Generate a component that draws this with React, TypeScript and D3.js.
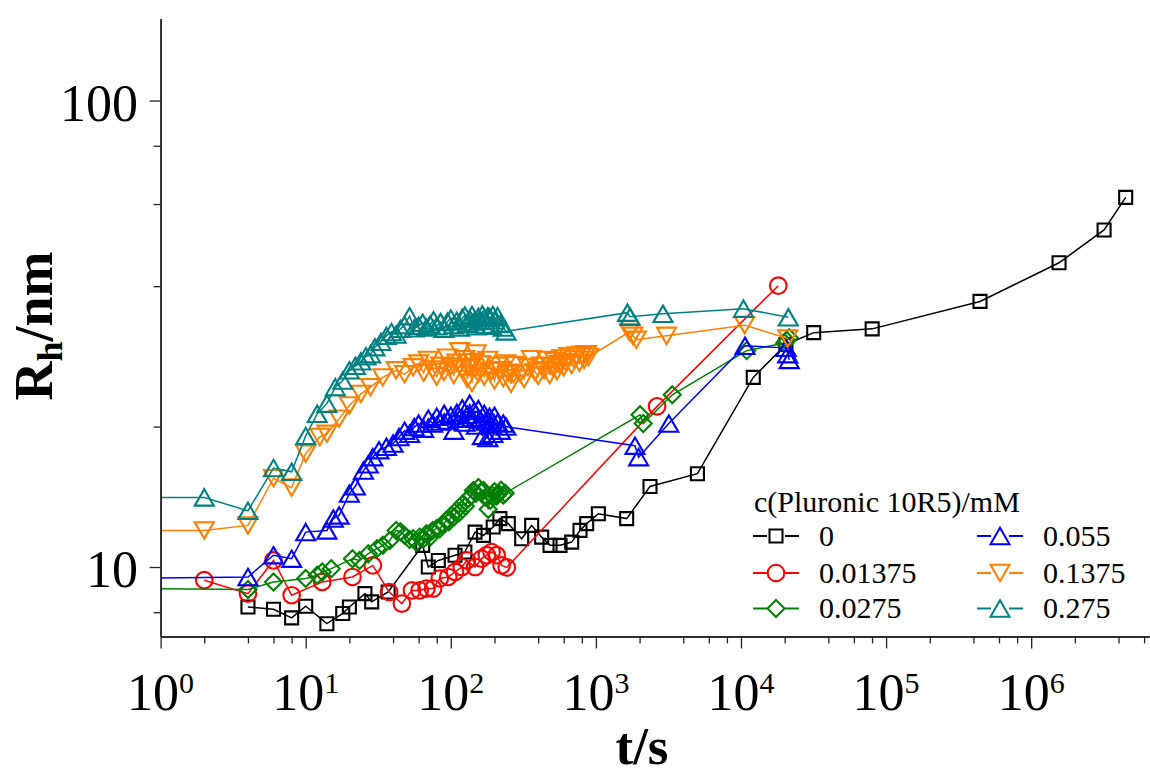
import { useEffect, useRef } from 'react';
import * as d3 from 'd3';

const width = 1150;
const height = 777;
const plot = { left: 160.6, right: 1150, top: 18.4, bottom: 636.4 };
const serif = "'Liberation Serif', 'Times New Roman', serif";

const concentrations = ['0', '0.01375', '0.0275', '0.055', '0.1375', '0.275'];
const seriesColors = ['#000000', '#ff0000', '#008000', '#0000ff', '#ff8000', '#008080'];
const seriesShapes = ['square', 'circle', 'diamond', 'up', 'down', 'up'];

// c = 0 mM
const tBlack = [4, 6, 8, 10, 14, 18, 20, 25.6, 28.5, 37, 64, 70, 82, 107, 125, 147, 168, 196, 218, 249, 308, 361, 423, 483, 566, 681, 777, 864, 1040, 1630, 2360, 5010, 12150, 20400, 31700, 80200, 444000, 1556000, 3180000, 4480000];
const rBlack = [8.21, 8.12, 7.78, 8.24, 7.56, 7.95, 8.21, 8.77, 8.42, 8.84, 11.13, 10.0, 10.33, 10.6, 10.77, 11.88, 11.69, 12.18, 12.7, 12.39, 11.5, 12.28, 11.59, 11.13, 11.13, 11.31, 11.98, 12.39, 13.01, 12.7, 14.88, 15.85, 25.5, 30.0, 31.8, 32.4, 37.1, 44.9, 52.8, 62.0];

// c = 0.01375 mM
const tRed = [2, 4, 6, 8, 13, 21, 29, 37.6, 46, 54, 61, 68, 75.5, 84, 96, 107, 119, 129, 147, 163, 177, 191, 207, 224, 243, 2640, 18070];
const rRed = [9.37, 8.77, 10.33, 8.7, 9.29, 9.52, 10.08, 8.84, 8.35, 8.91, 8.91, 8.99, 8.99, 9.45, 9.52, 9.76, 10.0, 10.33, 10.0, 10.42, 10.6, 10.77, 10.6, 10.08, 9.98, 22.1, 40.1];

// c = 0.0275 mM
const tGreen = [0.5, 4, 6, 10, 12, 13, 15, 21, 23.5, 27, 31, 34, 38, 42, 45, 48, 52, 55, 58, 61, 65, 68, 72, 75, 80, 84, 88, 93, 97, 101, 105, 110, 115, 121, 126, 132, 137, 143, 149, 155, 161, 168, 174, 181, 187, 193, 200, 207, 214, 222, 230, 237, 2015, 2120, 3360, 10950, 20000, 20640, 21500];
const rGreen = [9.0, 8.95, 9.29, 9.45, 9.6, 9.76, 9.92, 10.42, 10.33, 10.68, 10.95, 11.13, 11.4, 11.98, 11.9, 11.69, 11.45, 11.5, 11.3, 11.59, 11.5, 11.79, 11.6, 11.98, 12.1, 12.08, 12.3, 12.59, 12.5, 12.9, 12.8, 13.24, 13.1, 13.67, 13.5, 14.0, 14.2, 14.59, 14.4, 14.8, 14.5, 14.59, 14.1, 13.3, 13.9, 14.26, 14.5, 14.2, 14.37, 14.6, 14.26, 14.4, 21.2, 20.3, 23.4, 29.1, 30.2, 30.6, 31.0];

// c = 0.055 mM
const tBlue = [0.5, 4, 6, 8, 10, 14, 15.5, 17, 20, 22, 25, 27, 29, 32, 36, 40, 44, 48, 52, 56, 60, 65, 70, 75, 80, 85, 90, 95, 100, 105, 110, 115, 120, 125, 130, 135, 140, 145, 150, 155, 160, 165, 170, 175, 180, 185, 190, 195, 200, 210, 220, 230, 240, 1860, 1970, 3180, 10660, 20500, 21000, 21500];
const rBlue = [9.45, 9.52, 10.6, 10.42, 11.88, 11.98, 12.7, 12.9, 14.37, 14.9, 16.1, 16.6, 17.2, 17.8, 18.1, 18.4, 19.0, 19.6, 19.3, 19.95, 20.3, 19.8, 20.8, 20.3, 21.0, 20.5, 21.3, 20.6, 21.1, 19.6, 21.4, 20.8, 21.9, 20.4, 21.2, 22.4, 20.9, 21.6, 20.1, 21.8, 20.7, 19.1, 21.3, 20.5, 18.9, 21.0, 20.2, 19.3, 21.1, 20.4, 19.6, 20.3, 20.0, 18.2, 17.2, 20.3, 29.8, 29.5, 28.6, 27.8];

// c = 0.1375 mM
const tOrange = [0.5, 2, 4, 6, 8, 10, 12.5, 14, 17, 20, 24, 28, 34, 42, 48, 55, 60, 65, 70, 75, 80, 85, 90, 95, 100, 105, 110, 115, 120, 125, 130, 135, 140, 145, 150, 155, 160, 170, 180, 190, 200, 210, 220, 230, 240, 250, 260, 270, 280, 300, 320, 340, 360, 380, 400, 420, 440, 460, 480, 500, 520, 540, 560, 580, 600, 620, 650, 680, 710, 740, 770, 800, 830, 860, 890, 1700, 1800, 1900, 3070, 10600, 21000];
const rOrange = [11.98, 11.98, 12.28, 15.5, 14.8, 17.5, 19.0, 19.3, 20.8, 22.2, 23.5, 24.3, 25.5, 26.4, 25.9, 26.8, 27.3, 26.1, 27.8, 26.5, 25.6, 27.0, 26.2, 28.1, 26.9, 25.8, 27.4, 29.0, 26.6, 27.9, 25.3, 26.8, 24.8, 27.5, 28.7, 26.0, 27.2, 25.6, 27.8, 26.3, 25.1, 27.0, 26.4, 25.4, 27.3, 26.1, 24.7, 25.9, 27.1, 26.0, 25.3, 26.8, 27.9, 26.2, 25.7, 27.0, 26.4, 27.8, 25.8, 26.9, 27.6, 26.3, 27.2, 28.0, 26.8, 27.5, 28.3, 27.1, 27.9, 28.4, 27.4, 28.5, 27.8, 28.6, 28.2, 31.9, 31.3, 30.7, 31.3, 33.0, 30.9];

// c = 0.275 mM
const tTeal = [0.5, 2, 4, 6, 8, 10, 12, 14, 16, 18, 20, 22, 24, 26, 28, 30, 33, 36, 39, 42, 45, 48, 52, 56, 60, 64, 68, 72, 76, 80, 85, 90, 95, 100, 105, 110, 115, 120, 125, 130, 135, 140, 145, 150, 155, 160, 165, 170, 175, 180, 185, 190, 195, 200, 210, 220, 230, 240, 1650, 1720, 2900, 10400, 21200];
const rTeal = [14.1, 14.1, 13.2, 16.3, 16.0, 19.1, 21.3, 22.4, 24.3, 25.1, 26.4, 27.0, 27.6, 28.3, 28.6, 29.6, 30.4, 31.3, 31.9, 31.5, 32.4, 33.0, 34.5, 32.5, 32.9, 33.4, 32.6, 33.1, 33.8, 32.8, 33.5, 32.4, 33.6, 34.1, 33.0, 33.7, 32.6, 34.2, 34.6, 33.2, 34.0, 34.7, 33.6, 32.8, 34.4, 33.7, 34.8, 34.2, 33.1, 34.5, 34.3, 32.9, 34.7, 33.8, 34.5, 33.2, 32.6, 32.0, 35.1, 34.4, 34.9, 35.8, 34.3];

const xMajor = [1, 10, 100, 1e3, 1e4, 1e5, 1e6];
const xExponents = ['0', '1', '2', '3', '4', '5', '6'];
const xMinorSteps = [2, 4, 6, 8];
const yMajor = [10, 100];
const yLabels = ['10', '100'];
const yMinor = [8, 20, 40, 60, 80];

function markerPath(shape: string): string {
  switch (shape) {
    case 'square':
      return 'M-6.5,-6.5H6.5V6.5H-6.5Z';
    case 'circle':
      return d3.symbol(d3.symbolCircle, Math.PI * 8.3 * 8.3)() as string;
    case 'diamond':
      return 'M0,-8.5L8.5,0L0,8.5L-8.5,0Z';
    case 'down':
      return 'M0,8.2L9.5,-8.2L-9.5,-8.2Z';
    default:
      return 'M0,-8.2L9.5,8.2L-9.5,8.2Z';
  }
}

const App = () => {
  const ref = useRef<SVGSVGElement>(null);

  useEffect(() => {
    const svg = d3.select(ref.current);
    svg.selectAll('*').remove();

    const x = d3.scaleLog().domain([1, 6.59e6]).range([plot.left, plot.right]);
    const y = d3.scaleLog().domain([7.1, 150]).range([plot.bottom, plot.top]);

    svg.append('defs').append('clipPath').attr('id', 'plot-clip')
      .append('rect')
      .attr('x', plot.left).attr('y', plot.top - 10)
      .attr('width', plot.right - plot.left)
      .attr('height', plot.bottom - plot.top + 10);

    const series = [
      { t: tBlack, r: rBlack },
      { t: tRed, r: rRed },
      { t: tGreen, r: rGreen },
      { t: tBlue, r: rBlue },
      { t: tOrange, r: rOrange },
      { t: tTeal, r: rTeal },
    ];

    const line = d3.line<[number, number]>().x(d => x(d[0])).y(d => y(d[1]));
    const g = svg.append('g').attr('clip-path', 'url(#plot-clip)');

    series.forEach((s, i) => {
      const pts: [number, number][] = s.t.map((t, j) => [t, s.r[j]]);
      g.append('path').datum(pts)
        .attr('d', line)
        .attr('fill', 'none')
        .attr('stroke', seriesColors[i])
        .attr('stroke-width', 1.5);
      g.append('g').selectAll('path').data(pts).enter().append('path')
        .attr('d', markerPath(seriesShapes[i]))
        .attr('transform', d => `translate(${x(d[0])},${y(d[1])})`)
        .attr('fill', 'none')
        .attr('stroke', seriesColors[i])
        .attr('stroke-width', 2.1);
    });

    // axes
    const xMinor = xMajor.flatMap(d => xMinorSteps.map(k => k * d)).filter(v => v <= 6.59e6);
    const styleAxis = (a: any) => {
      a.selectAll('path').attr('stroke', '#222').attr('stroke-width', 1.5);
      a.selectAll('line').attr('stroke', '#222').attr('stroke-width', 1.3);
    };

    svg.append('g').attr('transform', `translate(0,${plot.bottom})`)
      .call(d3.axisBottom(x).tickValues(xMinor).tickSize(7).tickSizeOuter(0).tickFormat(() => ''))
      .call(styleAxis);
    svg.append('g').attr('transform', `translate(0,${plot.bottom})`)
      .call(d3.axisBottom(x).tickValues(xMajor).tickSize(12).tickSizeOuter(0).tickFormat(() => ''))
      .call(styleAxis);
    svg.append('g').attr('transform', `translate(${plot.left},0)`)
      .call(d3.axisLeft(y).tickValues(yMinor).tickSize(7).tickSizeOuter(0).tickFormat(() => ''))
      .call(styleAxis);
    svg.append('g').attr('transform', `translate(${plot.left},0)`)
      .call(d3.axisLeft(y).tickValues(yMajor).tickSize(11).tickSizeOuter(0).tickFormat(() => ''))
      .call(styleAxis);

    xMajor.forEach((v, i) => {
      const txt = svg.append('text')
        .attr('x', x(v)).attr('y', 710)
        .attr('text-anchor', 'middle')
        .attr('font-family', serif).attr('fill', '#000');
      txt.append('tspan').attr('font-size', 52).text('10');
      txt.append('tspan').attr('font-size', 30).attr('dy', -17).text(xExponents[i]);
    });

    yMajor.forEach((v, i) => {
      svg.append('text')
        .attr('x', 138).attr('y', y(v) + 20)
        .attr('text-anchor', 'end')
        .attr('font-family', serif).attr('font-size', 52).attr('fill', '#000')
        .text(yLabels[i]);
    });

    // axis titles
    const yt = svg.append('text')
      .attr('transform', 'translate(52,326) rotate(-90)')
      .attr('text-anchor', 'middle')
      .attr('font-family', serif).attr('font-weight', 'bold').attr('font-size', 54);
    yt.append('tspan').text('R');
    yt.append('tspan').attr('font-size', 36).attr('dy', 10).text('h');
    yt.append('tspan').attr('dy', -10).text('/nm');

    svg.append('text')
      .attr('x', 642).attr('y', 764)
      .attr('text-anchor', 'middle')
      .attr('font-family', serif).attr('font-weight', 'bold').attr('font-size', 53)
      .text('t/s');

    // legend
    svg.append('text')
      .attr('x', 754).attr('y', 512)
      .attr('font-family', serif).attr('font-size', 30)
      .text('c(Pluronic 10R5)/mM');

    const colX = [776, 1000];
    const rowY = [536, 573, 608.5];
    concentrations.forEach((c, i) => {
      const cx = colX[Math.floor(i / 3)];
      const cy = rowY[i % 3];
      const item = svg.append('g');
      item.append('line').attr('x1', cx - 23).attr('x2', cx - 9).attr('y1', cy).attr('y2', cy)
        .attr('stroke', seriesColors[i]).attr('stroke-width', 2);
      item.append('line').attr('x1', cx + 9).attr('x2', cx + 23).attr('y1', cy).attr('y2', cy)
        .attr('stroke', seriesColors[i]).attr('stroke-width', 2);
      item.append('path').attr('d', markerPath(seriesShapes[i]))
        .attr('transform', `translate(${cx},${cy})`)
        .attr('fill', 'none').attr('stroke', seriesColors[i]).attr('stroke-width', 2);
      item.append('text')
        .attr('x', cx + 43).attr('y', cy + 9.5)
        .attr('font-family', serif).attr('font-size', 30)
        .text(c);
    });
  }, []);

  return (
    <svg
      ref={ref}
      width={width}
      height={height}
      style={{ position: 'absolute', left: 0, top: 0, background: '#fff' }}
    />
  );
};

export default App;
